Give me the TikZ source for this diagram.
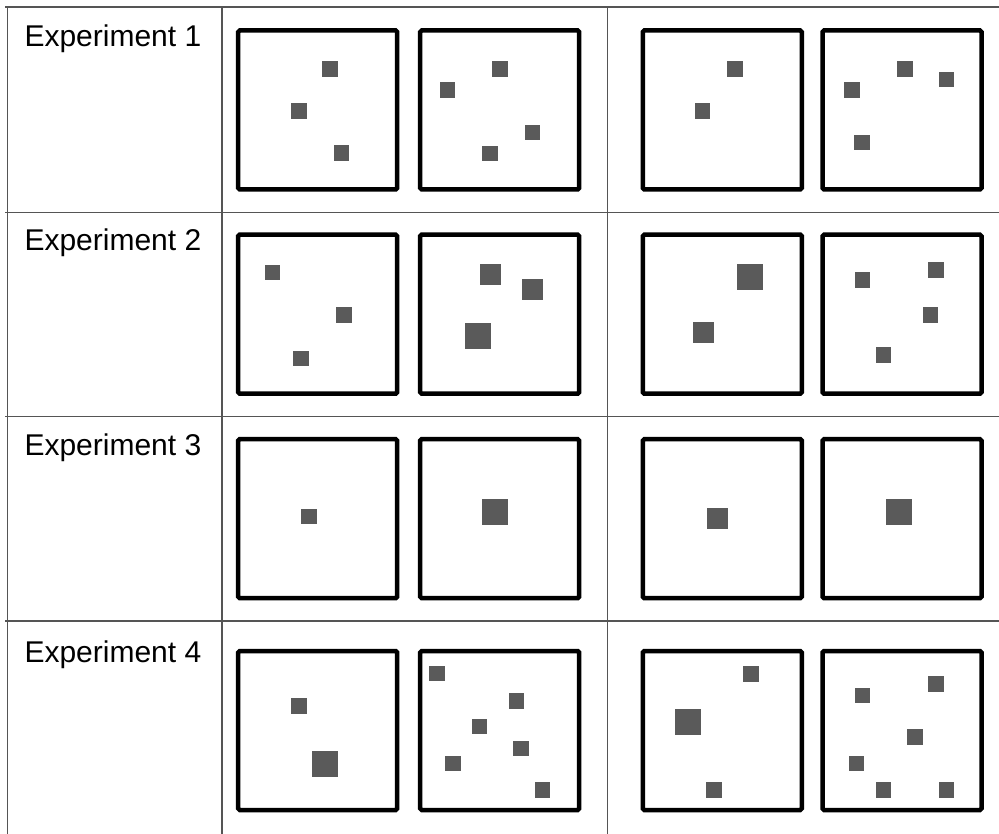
\documentclass[tikz,border=0pt]{standalone}
\usepackage{fontspec}
\setmainfont{Liberation Sans}
\usepackage{tikz}
\definecolor{exgrid}{HTML}{555555}
\definecolor{exdot}{HTML}{5A5A5A}

\begin{document}
\begin{tikzpicture}[x=1pt, y=-1pt, font=\fontsize{30}{36}\selectfont,
          rule/.style={draw=exgrid, line width=1.3pt},
          lbl/.style={anchor=base west, inner sep=0pt},
          panel/.style={draw=black, line width=4.5pt, rounded corners=1.5pt, minimum size=159pt, inner sep=0pt},
          spot/.style={fill=exdot, inner sep=0pt, minimum size=15.5pt},
          mid/.style={spot, minimum size=21pt},
          big/.style={spot, minimum size=26pt}]
          \useasboundingbox (0,0) rectangle (999,834);
          % table rules
          \draw[rule] (5,7) -- (999,7); \draw[rule] (5,212.5) -- (999,212.5);
          \draw[rule] (5,416.5) -- (999,416.5); \draw[rule] (5,621) -- (999,621);
          \draw[rule] (7.5,7) -- (7.5,834); \draw[rule] (222,7) -- (222,834); \draw[rule] (607.5,7) -- (607.5,834);
          % row labels
          \node[lbl] (e1) at (24.3,47) {Experiment 1};
          \node[lbl] (e2) at (24.3,251) {Experiment 2};
          \node[lbl] (e3) at (24.3,455) {Experiment 3};
          \node[lbl] (e4) at (24.3,662) {Experiment 4};
          % panels
          \node[panel] (p11) at (317.7,110) {}; \node[panel] (p12) at (499.7,110) {};
          \node[panel] (p13) at (722.3,110) {}; \node[panel] (p14) at (902,110) {};
          \node[panel] (p21) at (317.7,314.2) {}; \node[panel] (p22) at (499.7,314.2) {};
          \node[panel] (p23) at (722.3,314.2) {}; \node[panel] (p24) at (902,314.2) {};
          \node[panel] (p31) at (317.7,518.7) {}; \node[panel] (p32) at (499.7,518.7) {};
          \node[panel] (p33) at (722.3,518.7) {}; \node[panel] (p34) at (902,518.7) {};
          \node[panel] (p41) at (317.7,730.5) {}; \node[panel] (p42) at (499.7,730.5) {};
          \node[panel] (p43) at (722.3,730.5) {}; \node[panel] (p44) at (902,730.5) {};
          % experiment 1
          \node[spot] (a1) at (330,69) {}; \node[spot] (a2) at (299,111) {}; \node[spot] (a3) at (341.5,153) {};
          \node[spot] (a4) at (500,69) {}; \node[spot] (a5) at (447.3,89.8) {}; \node[spot] (a6) at (532.5,132.5) {}; \node[spot] (a7) at (490,153.3) {};
          \node[spot] (a8) at (735,69) {}; \node[spot] (a9) at (702.5,111) {};
          \node[spot] (a10) at (852,90) {}; \node[spot] (a11) at (905,69) {}; \node[spot] (a12) at (946.7,79.5) {}; \node[spot] (a13) at (862,142.5) {};
          % experiment 2
          \node[spot] (b1) at (272.5,272.7) {}; \node[spot] (b2) at (344,315) {}; \node[spot] (b3) at (301,358.5) {};
          \node[mid] (b4) at (490,275) {}; \node[mid] (b5) at (532.3,289.7) {}; \node[big] (b6) at (477.5,335.8) {};
          \node[big] (b7) at (750,277) {}; \node[mid] (b8) at (703.7,333) {};
          \node[spot] (b9) at (862.3,280) {}; \node[spot] (b10) at (936,269.8) {}; \node[spot] (b11) at (930.5,315) {}; \node[spot] (b12) at (883.3,354.8) {};
          % experiment 3
          \node[spot] (c1) at (309,516.7) {}; \node[big] (c2) at (494.7,511.8) {};
          \node[mid] (c3) at (717,518.7) {}; \node[big] (c4) at (899,511.8) {};
          % experiment 4
          \node[spot] (d1) at (299,706) {}; \node[big] (d2) at (324.5,763.7) {};
          \node[spot] (d3) at (437,673.7) {}; \node[spot] (d4) at (516.3,701.2) {}; \node[spot] (d5) at (479.3,726.7) {};
          \node[spot] (d6) at (520.8,748.3) {}; \node[spot] (d7) at (453.2,763.5) {}; \node[spot] (d8) at (542.7,790) {};
          \node[spot] (d9) at (751,674) {}; \node[big] (d10) at (687.7,722) {}; \node[spot] (d11) at (714,790) {};
          \node[spot] (d12) at (862.3,695.5) {}; \node[spot] (d13) at (936,684) {}; \node[spot] (d14) at (915,737) {};
          \node[spot] (d15) at (856.7,763.5) {}; \node[spot] (d16) at (883.3,790) {}; \node[spot] (d17) at (946.7,790) {};
        \end{tikzpicture}
\end{document}
